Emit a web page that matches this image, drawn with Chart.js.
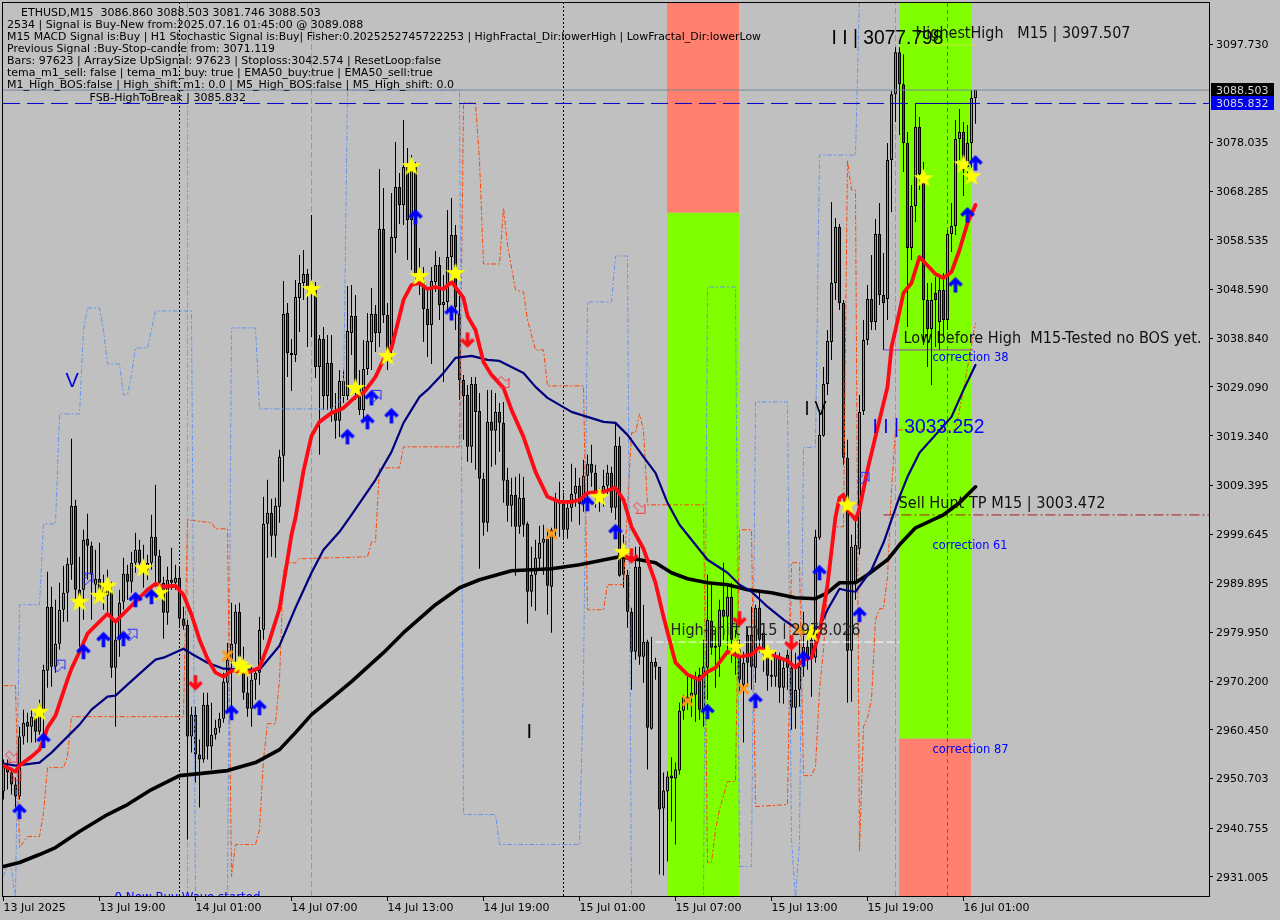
<!DOCTYPE html>
<html>
<head>
<meta charset="utf-8">
<title>ETHUSD,M15</title>
<script src="https://cdn.jsdelivr.net/npm/chart.js@4/dist/chart.umd.js"></script>
<style>
  html, body { margin: 0; padding: 0; background: #c0c0c0; }
  canvas { display: block; }
</style>
</head>
<body>
<canvas id="chart" width="1280" height="920"></canvas>
<script>
// candles, one entry per M15 bar
var opens = [2948.1,2953.1,2951.9,2949.5,2947.1,2959.1,2962.1,2961.1,2962.9,2960.1,
2964.1,2972.3,2985.1,2973.1,2977.7,2984.5,2987.9,2993.5,3005.3,2988.5,
2988.5,2998.7,2997.3,2989.5,2990.7,2988.5,2987.3,2988.1,2972.9,2978.5,
2986.1,2991.7,2990.1,2993.9,2996.5,2993.9,2992.5,2993.9,2999.1,2995.3,
2989.9,2983.9,2990.5,2989.9,2990.9,2982.7,2981.5,2959.1,2963.5,2955.5,
2954.5,2965.5,2957.1,2959.5,2960.9,2962.7,2969.9,2974.5,2977.7,2984.1,
2971.9,2967.9,2964.7,2970.5,2971.9,2980.5,3001.7,3003.9,2999.3,3005.1,
3015.3,3043.9,3035.9,3035.5,3046.9,3049.9,3051.7,3048.5,3048.5,3033.1,
3038.7,3027.3,3033.9,3024.5,3022.3,3027.3,3027.3,3039.9,3043.3,3029.1,
3024.5,3032.7,3038.1,3043.7,3039.9,3060.7,3043.5,3036.5,3058.9,3069.1,
3065.5,3073.1,3062.5,3073.1,3051.7,3050.1,3044.7,3041.5,3050.1,3053.5,
3045.5,3046.1,3055.1,3059.5,3043.7,3030.5,3027.5,3017.1,3029.7,3024.3,
3010.7,3001.9,3022.1,3020.3,3024.1,3021.9,3010.5,3005.3,3007.5,3001.1,
3006.9,3001.7,2988.1,2991.5,2994.7,2997.9,2998.7,2989.1,3000.5,3006.3,
3005.7,3000.5,3004.9,3007.7,3009.3,3005.7,3011.3,3013.7,3011.9,3006.5,
3007.9,3009.3,3011.9,3004.9,3017.3,2995.9,2991.5,2984.1,2976.1,2993.1,
2975.1,2978.1,2960.7,2974.1,2973.1,2944.7,2948.1,2951.3,2950.7,2952.3,
2964.3,2967.1,2967.1,2967.5,2971.5,2964.5,2972.9,2982.3,2976.9,2977.1,
2984.5,2983.1,2987.1,2978.5,2976.5,2969.5,2979.5,2979.5,2972.9,2984.9,
2979.9,2975.9,2971.5,2971.1,2975.1,2968.9,2975.5,2972.9,2964.9,2968.5,
2973.1,2977.1,2978.5,2974.9,2998.9,3019.3,3029.7,3038.1,3049.9,3061.1,
3045.9,3014.9,2976.3,2990.1,2996.7,3024.3,3038.5,3046.7,3042.1,3059.7,
3047.5,3046.7,3074.5,3087.7,3096.1,3089.7,3077.9,3056.9,3065.3,3081.1,
3071.7,3046.5,3040.7,3047.9,3042.1,3048.5,3042.5,3059.7,3061.3,3078.7,
3080.1,3073.1,3077.9,3086.86];
var highs = [2954.5,2954.5,2952.9,2950.9,2961.1,2964.5,2963.9,2964.5,2963.9,2966.5,
2973.5,2992.1,2989.1,2986.5,2989.9,2993.3,2994.9,3018.7,3006.5,2995.1,
3000.5,3003.7,2998.1,2996.5,2997.9,2991.5,2992.5,2990.1,2982.5,2988.5,
2994.9,2993.5,2996.1,2999.9,2998.5,2997.5,2995.5,3003.5,3009.5,2996.5,
2991.1,2993.1,2996.9,2993.5,2993.1,2985.1,2982.5,2965.1,2965.1,2958.5,
2967.9,2967.9,2965.9,2962.5,2963.9,2971.9,2977.9,2985.9,2985.5,2985.9,
2977.1,2971.1,2973.1,2972.9,2983.1,3007.1,3010.5,3006.7,3006.9,3016.5,
3050.3,3045.9,3038.7,3050.5,3055.5,3056.5,3052.7,3063.5,3050.1,3039.5,
3041.1,3039.5,3039.5,3027.9,3032.5,3032.5,3049.3,3049.5,3047.5,3032.5,
3038.5,3043.9,3048.9,3045.5,3072.7,3068.9,3045.9,3067.9,3078.1,3071.9,
3082.5,3076.9,3075.5,3074.1,3056.9,3053.1,3048.5,3053.1,3056.3,3055.1,
3051.5,3064.5,3066.9,3061.5,3047.3,3031.5,3029.5,3031.1,3031.1,3027.9,
3011.9,3028.5,3028.5,3027.9,3025.9,3026.1,3012.9,3010.9,3011.1,3011.7,
3011.1,3002.1,2997.1,2998.5,3001.3,3001.5,3000.5,3000.9,3007.9,3010.1,
3007.9,3006.1,3013.7,3012.9,3010.9,3014.5,3015.5,3017.5,3013.5,3008.9,
3012.5,3013.5,3013.1,3021.9,3019.1,2999.5,2992.5,2984.9,2997.1,2997.1,
2985.5,2978.5,2979.1,2974.9,2973.1,2951.9,2952.1,2954.9,2953.9,2965.9,
2967.5,2971.1,2971.1,2972.1,2972.9,2978.5,2991.5,2989.5,2980.9,2986.5,
2993.9,2989.9,2989.9,2980.5,2978.5,2976.1,2981.1,2985.1,2985.5,2988.1,
2980.5,2977.1,2975.1,2976.1,2975.9,2974.5,2976.5,2976.5,2975.9,2978.5,
2984.1,2979.1,2979.5,3000.5,3024.5,3033.1,3040.5,3066.1,3062.9,3061.7,
3046.5,3018.5,2999.5,3002.5,3027.5,3042.5,3049.5,3055.5,3062.7,3065.9,
3055.9,3077.9,3088.3,3097.1,3097.1,3095.7,3080.1,3069.5,3085.9,3083.1,
3074.1,3049.9,3049.9,3051.1,3051.1,3051.9,3060.5,3065.9,3082.5,3084.7,
3082.1,3081.5,3088.5,3088.503];
var lows = [2946.5,2948.5,2947.5,2944.9,2946.5,2957.5,2957.9,2957.9,2957.9,2959.5,
2958.1,2968.9,2969.1,2971.9,2976.5,2982.1,2982.1,2990.5,2986.1,2977.1,
2982.5,2990.5,2982.5,2985.9,2986.5,2984.5,2984.1,2970.9,2961.1,2975.1,
2984.5,2986.5,2987.9,2991.9,2993.1,2988.9,2990.5,2992.5,2989.1,2987.5,
2978.7,2981.5,2988.5,2988.5,2981.1,2980.5,2938.5,2955.9,2949.9,2944.9,
2953.9,2954.5,2952.5,2958.5,2959.9,2961.9,2963.9,2965.1,2973.9,2971.9,
2966.5,2963.1,2961.1,2966.5,2969.5,2978.5,2994.9,2995.1,2994.9,3001.9,
3010.1,3031.1,3028.3,3034.1,3040.1,3046.5,3037.1,3039.1,3030.9,3015.5,
3024.5,3024.5,3022.1,3018.7,3019.1,3025.9,3026.5,3035.5,3026.5,3023.5,
3022.5,3031.5,3032.5,3036.1,3037.1,3041.9,3032.5,3034.5,3055.9,3061.7,
3061.5,3054.5,3052.5,3050.5,3047.5,3038.1,3035.1,3033.7,3048.1,3042.5,
3030.1,3044.1,3052.5,3040.5,3026.5,3018.5,3014.1,3013.9,3012.5,2992.7,
2999.3,3000.1,3013.1,3013.5,3016.1,3005.9,3002.1,3001.1,2991.3,2999.7,
2999.1,2981.7,2985.1,2984.3,2992.5,2991.5,2983.5,2979.9,2999.1,2999.1,
2998.9,2998.7,3002.1,3005.1,3001.5,3004.1,3004.5,3009.1,3004.9,3004.1,
3005.1,3007.5,3003.9,3002.5,2991.1,2988.9,2980.9,2968.5,2974.5,2973.5,
2969.9,2952.5,2960.5,2970.5,2931.5,2931.3,2934.1,2942.1,2937.5,2951.5,
2962.5,2964.5,2963.1,2962.1,2962.5,2961.1,2966.5,2975.5,2968.9,2971.1,
2978.5,2976.5,2973.9,2971.5,2967.9,2957.9,2969.1,2968.5,2969.9,2975.9,
2972.1,2968.3,2969.1,2969.1,2965.9,2965.7,2968.5,2960.5,2960.7,2965.1,
2971.1,2972.5,2967.1,2973.9,2998.5,3019.1,3027.5,3034.5,3046.5,3044.5,
3013.5,2965.9,2966.1,2986.5,2995.5,3023.5,3037.5,3040.5,3040.5,3045.5,
3036.5,3042.5,3064.1,3082.1,3079.5,3072.1,3041.1,3054.5,3062.1,3068.5,
3037.5,3033.1,3029.5,3037.1,3036.5,3039.1,3040.5,3056.1,3059.5,3074.5,
3067.3,3070.5,3072.5,3081.746];
var closes = [2953.1,2951.9,2949.5,2947.1,2959.1,2961.9,2961.1,2963.1,2960.1,2965.5,
2972.5,2985.1,2973.1,2977.7,2984.5,2987.9,2993.7,3005.3,2988.5,2986.5,
2998.5,2997.3,2991.5,2990.7,2988.5,2987.3,2989.9,2972.9,2978.5,2985.9,
2991.7,2990.1,2993.9,2996.5,2993.9,2992.5,2993.9,2999.1,2995.3,2989.9,
2983.9,2990.5,2989.9,2990.9,2982.7,2981.3,2959.1,2963.5,2955.5,2954.5,
2965.5,2957.1,2959.5,2960.9,2962.7,2970.1,2974.5,2977.7,2984.1,2975.1,
2967.9,2964.7,2970.5,2971.9,2980.5,3001.7,3003.9,2999.3,3005.3,3015.1,
3043.7,3035.9,3035.5,3047.1,3049.9,3051.7,3048.5,3049.9,3033.1,3038.7,
3027.3,3033.9,3024.7,3022.3,3030.3,3030.3,3040.3,3043.3,3029.1,3024.5,
3032.7,3038.3,3043.7,3039.9,3060.7,3043.5,3034.5,3059.1,3069.1,3065.5,
3073.1,3062.5,3073.3,3051.7,3050.1,3044.7,3041.5,3050.3,3053.5,3045.5,
3046.1,3055.1,3059.5,3045.1,3030.5,3027.3,3017.1,3029.7,3024.1,3010.7,
3001.9,3022.1,3020.3,3024.1,3021.9,3010.3,3005.3,3007.5,3001.1,3006.9,
3001.5,2988.1,2991.5,2994.9,2997.9,2998.7,2989.3,3000.5,3006.7,3005.7,
3000.5,3004.9,3007.7,3009.3,3005.7,3011.3,3013.7,3011.9,3006.9,3007.5,
3009.3,3011.9,3004.9,3017.3,2991.3,2991.5,2984.1,2976.1,2993.1,2975.1,
2978.1,2960.9,2974.1,2973.1,2944.5,2948.3,2951.1,2950.7,2952.5,2964.3,
2967.1,2965.9,2967.9,2970.9,2964.5,2973.1,2982.5,2976.9,2977.3,2984.5,
2983.1,2987.1,2978.5,2976.5,2970.5,2973.9,2973.9,2973.1,2984.9,2978.5,
2975.5,2971.3,2971.1,2975.1,2968.9,2972.9,2972.9,2964.9,2968.5,2973.1,
2977.1,2974.9,2974.9,2999.1,3019.5,3029.7,3038.3,3049.9,3061.1,3045.9,
3014.9,2976.3,2997.1,2997.5,3024.1,3038.5,3046.7,3042.1,3059.7,3047.5,
3045.9,3074.5,3087.7,3096.1,3089.7,3077.9,3056.9,3065.3,3081.1,3071.7,
3046.5,3040.7,3046.5,3046.5,3048.5,3042.5,3059.7,3061.3,3078.7,3080.1,
3072.5,3077.9,3086.9,3088.503];

// thick red average
var redBars = [0,3,4,7,9,10,11,13,16,17,19,21,24,26,28,32,36,38,40,43,45,47,49,51,53,55,57,61,64,66,69,72,73,75,77,79,82,85,88,90,93,95,97,100,102,104,106,108,110,112,115,116,118,120,122,125,127,130,133,136,139,142,144,146,150,153,155,157,160,163,165,168,171,174,176,178,181,184,187,189,192,196,198,200,202,204,206,208,209,210,211,213,214,216,219,221,222,223,225,227,229,233,235,237,239,241,243];
var redPrices = [2953.3,2952.1,2953.3,2955.1,2956.5,2958.5,2960.9,2963.3,2970.5,2972.7,2976.1,2979.7,2982.1,2983.7,2982.1,2985.3,2988.5,2989.7,2989.1,2989.3,2987.5,2983.5,2978.5,2974.7,2971.9,2971.1,2972.3,2971.9,2972.9,2977.1,2984.7,2999.5,3002.9,3012.3,3019.3,3022.1,3023.9,3024.9,3027.1,3027.9,3031.1,3034.5,3036.9,3046.5,3049.5,3049.9,3048.7,3049.1,3048.7,3050.1,3046.9,3043.3,3040.5,3034.1,3031.5,3028.9,3024.5,3019.1,3012.1,3007.1,3006.1,3006.1,3006.5,3007.9,3008.1,3008.9,3006.5,3001.1,2996.7,2989.9,2983.1,2973.9,2971.5,2970.5,2972.1,2972.9,2976.1,2975.1,2975.5,2976.9,2975.5,2974.3,2972.9,2974.5,2974.9,2979.9,2989.5,3003.1,3006.9,3007.5,3004.5,3002.5,3004.7,3012.5,3022.5,3029.1,3037.1,3040.5,3047.9,3049.9,3055.1,3051.7,3050.9,3052.1,3056.5,3061.9,3065.5];

// navy average
var navyBars = [0,3,9,12,17,19,22,26,28,31,36,38,40,45,47,51,55,61,64,69,73,77,80,84,87,93,97,100,104,106,110,113,117,121,124,130,133,136,142,150,153,156,160,163,166,169,172,176,181,184,187,191,195,198,200,204,206,209,211,213,217,220,222,224,226,229,233,237,240,243];
var navyPrices = [2953.7,2953.3,2953.9,2955.9,2959.9,2961.5,2964.5,2967.1,2967.3,2969.5,2973.1,2974.5,2974.9,2976.7,2975.7,2973.9,2972.7,2972.5,2972.5,2977.3,2984.9,2991.9,2996.5,3000.1,3003.5,3010.5,3016.1,3021.9,3027.1,3028.5,3031.9,3034.9,3035.3,3034.5,3034.3,3031.9,3029.1,3026.9,3024.1,3022.1,3021.9,3019.5,3015.1,3011.9,3005.9,3001.5,2998.5,2994.5,2991.9,2989.5,2988.1,2985.1,2982.5,2980.9,2980.1,2981.1,2984.5,2988.7,2988.3,2988.1,2992.5,2997.9,3002.5,3007.1,3011.1,3015.9,3019.5,3023.1,3028.5,3033.5];

// black average
var blackBars = [0,4,9,13,19,26,31,37,44,49,56,63,69,73,77,84,87,95,100,108,114,119,127,137,144,149,154,159,163,167,171,176,181,186,192,198,203,206,209,213,216,221,224,228,235,239,243];
var blackPrices = [2933.1,2933.9,2935.5,2936.9,2940.1,2943.5,2945.5,2948.5,2951.3,2951.7,2952.3,2953.9,2956.5,2959.9,2963.5,2968.1,2970.1,2975.9,2979.9,2985.5,2988.9,2990.5,2992.3,2992.7,2993.5,2994.3,2995.1,2994.5,2993.9,2991.9,2990.7,2989.9,2989.5,2988.5,2987.9,2986.9,2986.7,2987.9,2989.9,2989.9,2991.5,2994.5,2997.5,3000.9,3003.5,3005.9,3009.1];

// dashed stepped bands
var blueBandBars = [0,1,2,3,4,9,10,13,14,19,20,21,24,25,26,29,30,31,32,33,36,38,47,48,56,57,63,64,82,85,86,114,115,123,124,144,145,146,152,153,156,157,174,175,176,183,184,187,188,196,197,198,199,200,203,204,213,214];
var blueBandPrices = [2931.1,2933.5,2932.5,2926.5,2985.5,2985.5,3001.7,3001.7,3023.7,3023.7,3040.5,3044.9,3044.9,3040.5,3033.7,3033.7,3027.5,3027.5,3031.5,3036.9,3036.9,3044.3,3044.3,2926.5,2926.5,3040.9,3040.9,3024.7,3024.7,3027.1,3088.5,3088.5,2943.5,2943.5,2937.5,2937.5,2970.5,3046.1,3046.1,3055.3,3055.3,2926.5,2926.5,2927.5,3049.1,3049.1,2933.1,2933.1,3026.1,3026.1,2938.5,2926.5,2938.1,3016.9,3017.1,3075.5,3075.5,3107.5];
var orangeBandBars = [0,3,4,6,9,10,11,15,16,17,45,46,52,53,56,57,58,63,64,65,66,68,69,70,71,73,74,91,92,93,94,99,100,114,115,118,119,120,124,125,126,128,130,131,132,133,135,136,145,146,150,151,155,157,158,159,160,161,175,176,177,178,179,181,183,184,187,188,196,197,199,200,202,203,204,205,206,208,210,211,212,213,214,215,216,217,218,219,220,221,222,223,238,240,242,243];
var orangeBandPrices = [2969.3,2969.3,2936.9,2939.1,2939.1,2943.9,2952.9,2952.9,2955.1,2963.1,2963.1,3002.5,3001.9,3000.7,3000.7,2931.1,2937.5,2937.5,2940.5,2954.5,2961.7,2961.7,2970.5,2992.5,2993.9,2993.9,2994.7,2995.1,2998.1,2998.1,3012.9,3012.9,3017.1,3017.1,3085.9,3085.9,3074.5,3053.7,3053.7,3064.9,3057.5,3048.5,3048.1,3042.5,3039.5,3036.5,3036.5,3029.3,3029.3,2984.5,2984.5,2989.5,2989.5,3019.9,3019.9,3023.7,3020.5,3005.5,3005.5,2933.9,2933.9,2940.5,2944.5,2950.1,2950.1,3000.5,3000.5,2945.1,2945.5,2993.9,2993.9,2951.3,2951.3,2953.1,2968.5,2976.5,2988.5,3001.1,3001.1,3074.5,3068.5,3068.5,2936.1,2961.1,2962.9,2966.5,2982.5,2984.7,2984.7,2991.1,3008.5,3020.5,3020.5,3028.5,3037.5,3041.9];

// signal markers
var starBars = [9,19,24,26,35,39,59,60,77,88,96,102,104,113,149,155,183,191,202,211,230,240,242];
var starPrices = [2964.1,2986.1,2987.3,2989.3,2992.9,2987.9,2973.5,2972.9,3048.7,3028.9,3035.3,3073.3,3051.3,3051.9,3007.1,2996.1,2977.1,2975.9,2979.9,3005.5,3070.9,3073.7,3071.3];
var buyArrowBars = [4,10,20,25,30,33,37,57,64,86,91,92,97,103,112,146,153,176,188,200,204,214,238,241,243];
var buyArrowPrices = [2944.1,2958.3,2976.1,2978.5,2978.7,2986.5,2987.1,2963.9,2964.9,3019.1,3022.1,3026.9,3023.3,3063.1,3043.9,3005.7,3000.1,2964.1,2966.3,2974.7,2991.9,2983.5,3049.5,3063.5,3073.9];
var sellArrowBars = [48,116,157,184,197];
var sellArrowPrices = [2969.9,3038.5,2995.3,2982.7,2977.9];
var crossBars = [56,137,171,185,199];
var crossPrices = [2975.3,2999.7,2966.3,2968.7,2980.5];
var hollowBuyBars = [14,21,32,93,215];
var hollowBuyPrices = [2973.3,2990.7,2979.5,3027.3,3010.9];
var hollowSellBars = [2,3,125,159];
var hollowSellPrices = [2955.1,2951.5,3030.1,3004.9];

// price levels
var lastPrice = 3088.503;
var breakPrice = 3085.832;
var highestHigh = 3097.507;
var lowBeforeHigh = 3036.5;
var sellHuntTp = 3003.472;
var highShift = 2978.026;

// time separators
var blackLineBars = [44, 140];
var cyanLineBars = [46];
var pinkLineBars = [77, 223];
var purpleLineBars = [236];

// coloured blocks: centre bar, low, high
var zoneBars = [174.875, 174.875, 232.875, 232.875];
var zoneLows = [3064.0, 2920, 2958.7, 2920];
var zoneHighs = [3110, 3064.0, 3110, 2958.7];
var zoneColors = ['#ff806e', '#7fff00', '#7fff00', '#ff806e'];

// axes
var priceTicks = [3097.73,3078.035,3068.285,3058.535,3048.59,3038.84,3029.09,3019.34,3009.395,2999.645,2989.895,2979.95,2970.2,2960.45,2950.703,2940.755,2931.005];
var timeTickBars = [0,24,48,72,96,120,144,168,192,216,240];
var timeTickLabels = ['13 Jul 2025','13 Jul 19:00','14 Jul 01:00','14 Jul 07:00','14 Jul 13:00','14 Jul 19:00','15 Jul 01:00','15 Jul 07:00','15 Jul 13:00','15 Jul 19:00','16 Jul 01:00'];

// text on the chart
var noteTexts = ['I I | 3077.798','HighestHigh   M15 | 3097.507','Low before High  M15-Tested no BOS yet.','correction 38','I I | 3033.252','Sell Hunt TP M15 | 3003.472','correction 61','High-shift m15 | 2978.026','correction 87','FSB-HighToBreak | 3085.832','V','I V','I','0 New Buy Wave started'];
var noteBars = [207,228,225,232.25,217.25,223.75,232.25,166.75,232.25,21.5,15.5,200.25,130.75,27.75];
var notePrices = [3098.9,3099.7,3038.7,3034.9,3020.9,3005.7,2997.3,2980.3,2956.5,3086.9,3030.1,3024.5,2959.9,2926.9];
var noteFonts = ['20px "Liberation Sans"','16px "DejaVu Sans"','16px "DejaVu Sans"','12px "DejaVu Sans"','20px "Liberation Sans"','16px "DejaVu Sans"','12px "DejaVu Sans"','16px "DejaVu Sans"','12px "DejaVu Sans"','11px "DejaVu Sans"','20px "Liberation Sans"','20px "Liberation Sans"','20px "Liberation Sans"','13px "DejaVu Sans"'];
var noteColors = ['#000','#111','#111','#0000ff','#0000ff','#111','#0000ff','#222','#0000ff','#000','#0000e0','#000','#000','#0000ff'];
var noteWidths = [112,215,298,76,112,207,75,190,76,159,14,22,6,146];

var headerLines = [
  'ETHUSD,M15  3086.860 3088.503 3081.746 3088.503',
  '2534 | Signal is Buy-New from:2025.07.16 01:45:00 @ 3089.088',
  'M15 MACD Signal is:Buy | H1 Stochastic Signal is:Buy| Fisher:0.2025252745722253 | HighFractal_Dir:lowerHigh | LowFractal_Dir:lowerLow',
  'Previous Signal :Buy-Stop-candle from: 3071.119',
  'Bars: 97623 | ArraySize UpSignal: 97623 | Stoploss:3042.574 | ResetLoop:false',
  'tema_m1_sell: false | tema_m1_buy: true | EMA50_buy:true | EMA50_sell:true',
  'M1_High_BOS:false | High_shift_m1: 0.0 | M5_High_BOS:false | M5_High_shift: 0.0'
];
var headerLefts = [21, 7, 7, 7, 7, 7, 7];
var headerWidths = [305, 359, 754, 268, 434, 436, 456];

var upColor = '#26c97e';
var downColor = '#bb1d3c';
var uiFont = '"DejaVu Sans"';

function pairs(bars, prices) {
  return bars.map(function (b, i) { return { x: b, y: prices[i] }; });
}

function newCanvas(w, h, draw) {
  var c = document.createElement('canvas');
  c.width = w;
  c.height = h;
  draw(c.getContext('2d'), w, h);
  return c;
}

function starIcon() {
  return newCanvas(22, 22, function (g) {
    g.beginPath();
    for (var i = 0; i < 10; i++) {
      var r = i % 2 ? 4.2 : 10.5;
      var a = -Math.PI / 2 + i * Math.PI / 5;
      g.lineTo(11 + r * Math.cos(a), 11.5 + r * Math.sin(a));
    }
    g.closePath();
    g.fillStyle = '#ffff00';
    g.fill();
  });
}

function arrowIcon(color, up) {
  return newCanvas(16, 17, function (g, w, h) {
    if (!up) { g.translate(0, h); g.scale(1, -1); }
    g.strokeStyle = color;
    g.lineWidth = 3.6;
    g.beginPath();
    g.moveTo(8, 16);
    g.lineTo(8, 3);
    g.moveTo(2, 9);
    g.lineTo(8, 3);
    g.lineTo(14, 9);
    g.stroke();
  });
}

function crossIcon() {
  return newCanvas(14, 14, function (g) {
    g.strokeStyle = '#ff9a10';
    g.lineWidth = 3;
    g.beginPath();
    g.moveTo(2, 2);
    g.lineTo(12, 12);
    g.moveTo(12, 2);
    g.lineTo(2, 12);
    g.stroke();
  });
}

function hollowIcon(color, up) {
  return newCanvas(14, 14, function (g) {
    if (!up) { g.translate(14, 0); g.rotate(Math.PI / 2); }
    g.strokeStyle = color;
    g.lineWidth = 1;
    g.beginPath();
    g.moveTo(1.5, 9.5);
    g.lineTo(5, 13);
    g.lineTo(10, 8);
    g.lineTo(12.5, 10.5);
    g.lineTo(12.5, 1.5);
    g.lineTo(3.5, 1.5);
    g.lineTo(6.5, 4.5);
    g.closePath();
    g.stroke();
  });
}

function bandLine(bars, prices, color) {
  return {
    type: 'line', order: 40, data: pairs(bars, prices), borderColor: color, borderWidth: 1,
    borderDash: [5, 2, 2, 2], pointRadius: 0, tension: 0
  };
}

function averageLine(bars, prices, color, width, order) {
  return {
    type: 'line', order: order, data: pairs(bars, prices), borderColor: color, borderWidth: width,
    borderJoinStyle: 'round', borderCapStyle: 'round', pointRadius: 0, tension: 0
  };
}

function markers(bars, prices, icon) {
  return {
    type: 'scatter', order: 10, data: pairs(bars, prices), pointStyle: icon, pointRadius: 8, showLine: false
  };
}

function levelLine(fromBar, toBar, price, color, dash, order) {
  return {
    type: 'line', order: order || 35, data: [{ x: fromBar, y: price }, { x: toBar, y: price }],
    borderColor: color, borderWidth: 1, borderDash: dash || [], pointRadius: 0
  };
}

var X_MIN = -0.125, X_MAX = 301.375, Y_MIN = 2927.2, Y_MAX = 3106.14;

function timeLines(bars, color, dash) {
  return bars.map(function (b) {
    return {
      type: 'line', order: 90, data: [{ x: b, y: Y_MIN }, { x: b, y: Y_MAX }],
      borderColor: color, borderWidth: 1, borderDash: dash, pointRadius: 0
    };
  });
}

var datasets = [];

zoneBars.forEach(function (b, i) {
  datasets.push({
    type: 'bar', order: 100, data: [{ x: b, y: [zoneLows[i], zoneHighs[i]] }],
    backgroundColor: zoneColors[i], barThickness: 72, grouped: false, inflateAmount: 0
  });
});

datasets = datasets.concat(
  timeLines(blackLineBars, '#000000', [2, 2]),
  timeLines(cyanLineBars, '#00e0e0', [6, 2, 2, 2]),
  timeLines(pinkLineBars, '#e8709c', [6, 3]),
  timeLines(purpleLineBars, '#9a3fa8', [4, 3])
);

// wicks then bodies
datasets.push({
  type: 'bar', order: 51,
  data: lows.map(function (l, i) { return { x: i, y: [l, highs[i]] }; }),
  backgroundColor: '#000000', barThickness: 1, grouped: false, inflateAmount: 0
});
datasets.push({
  type: 'bar', order: 50,
  data: opens.map(function (o, i) { return { x: i, y: [o, closes[i]] }; }),
  backgroundColor: opens.map(function (o, i) { return closes[i] >= o ? upColor : downColor; }),
  borderColor: '#000000', borderWidth: 1, borderSkipped: false, barThickness: 3, grouped: false, inflateAmount: 0
});

datasets.push(bandLine(blueBandBars, blueBandPrices, '#6495ed'));
datasets.push(bandLine(orangeBandBars, orangeBandPrices, '#ff4500'));

datasets.push(levelLine(X_MIN, X_MAX, lastPrice, '#778899'));
datasets.push(levelLine(X_MIN, X_MAX, breakPrice, '#0000c8', [17, 7]));
datasets.push(levelLine(228, 242.5, breakPrice, '#00008b'));
datasets.push(levelLine(228, 243, highestHigh, '#c8e632'));
datasets.push(levelLine(220, 242.5, lowBeforeHigh, '#9932cc'));
datasets.push(levelLine(220, X_MAX, sellHuntTp, '#a81c1c', [10, 3, 2, 3]));
datasets.push(levelLine(163, 224, highShift, '#ffffff', [8, 3]));

datasets.push(averageLine(blackBars, blackPrices, '#000000', 3.6, 30));
datasets.push(averageLine(navyBars, navyPrices, '#00007f', 2.2, 29));
datasets.push(averageLine(redBars, redPrices, '#ff0a14', 3.8, 28));

datasets.push(markers(hollowBuyBars, hollowBuyPrices, hollowIcon('#2a2aff', true)));
datasets.push(markers(hollowSellBars, hollowSellPrices, hollowIcon('#ff3040', false)));
datasets.push(markers(crossBars, crossPrices, crossIcon()));
datasets.push(markers(buyArrowBars, buyArrowPrices, arrowIcon('#0000ff', true)));
datasets.push(markers(sellArrowBars, sellArrowPrices, arrowIcon('#ff0a14', false)));
datasets.push(markers(starBars, starPrices, starIcon()));

var chartText = {
  id: 'chartText',
  afterDraw: function (chart) {
    var ctx = chart.ctx, area = chart.chartArea;
    var xs = chart.scales.x, ys = chart.scales.y;

    ctx.save();
    ctx.beginPath();
    ctx.rect(area.left, area.top, area.right - area.left, area.bottom - area.top);
    ctx.clip();
    ctx.textBaseline = 'middle';
    ctx.textAlign = 'left';
    noteTexts.forEach(function (t, i) {
      ctx.font = noteFonts[i];
      ctx.fillStyle = noteColors[i];
      ctx.fillText(t, xs.getPixelForValue(noteBars[i]), ys.getPixelForValue(notePrices[i]), noteWidths[i]);
    });
    ctx.font = '11px ' + uiFont;
    ctx.fillStyle = '#000';
    headerLines.forEach(function (t, i) {
      ctx.fillText(t, headerLefts[i], 13 + i * 12, headerWidths[i]);
    });
    ctx.restore();

    // frame round the plot
    ctx.save();
    ctx.strokeStyle = '#000';
    ctx.lineWidth = 1;
    ctx.strokeRect(area.left - 0.5, area.top + 0.5, area.right - area.left + 1, area.bottom - area.top);
    ctx.restore();

    // price tags on the right
    ctx.save();
    ctx.font = '11px ' + uiFont;
    ctx.textBaseline = 'middle';
    ctx.textAlign = 'left';
    [[lastPrice, '#000000'], [breakPrice, '#0000f0']].forEach(function (tag) {
      var y = Math.round(ys.getPixelForValue(tag[0]));
      ctx.fillStyle = tag[1];
      ctx.fillRect(area.right + 2, y - 7, 63, 14);
      ctx.fillStyle = '#d8d8d8';
      ctx.fillText(tag[0].toFixed(3), area.right + 7, y + 1, 53);
    });
    ctx.restore();
  }
};

new Chart(document.getElementById('chart').getContext('2d'), {
  data: { datasets: datasets },
  plugins: [chartText],
  options: {
    responsive: false,
    animation: false,
    events: [],
    layout: { autoPadding: false, padding: { left: 3, top: 2, right: 0, bottom: 0 } },
    plugins: { legend: { display: false }, tooltip: { enabled: false } },
    scales: {
      x: {
        type: 'linear',
        offset: false,
        min: X_MIN,
        max: X_MAX,
        afterBuildTicks: function (s) { s.ticks = timeTickBars.map(function (v) { return { value: v }; }); },
        afterFit: function (s) { s.height = 24; s.paddingLeft = 0; s.paddingRight = 0; },
        grid: { offset: false, drawOnChartArea: false, tickLength: 5, color: '#000' },
        border: { display: false },
        ticks: {
          autoSkip: false, maxRotation: 0, minRotation: 0, align: 'start', padding: 1, color: '#000',
          font: { family: 'DejaVu Sans', size: 11 },
          callback: function (v) { return timeTickLabels[timeTickBars.indexOf(v)]; }
        }
      },
      y: {
        type: 'linear',
        position: 'right',
        min: Y_MIN,
        max: Y_MAX,
        afterBuildTicks: function (s) { s.ticks = priceTicks.map(function (v) { return { value: v }; }); },
        afterFit: function (s) { s.width = 71; s.paddingTop = 0; s.paddingBottom = 0; },
        grid: { drawOnChartArea: false, tickLength: 4, color: '#000' },
        border: { display: false },
        ticks: {
          autoSkip: false, padding: 3, labelOffset: 1, color: '#000',
          font: { family: 'DejaVu Sans', size: 11 },
          callback: function (v) { return v.toFixed(3); }
        }
      }
    }
  }
});
</script>
</body>
</html>
